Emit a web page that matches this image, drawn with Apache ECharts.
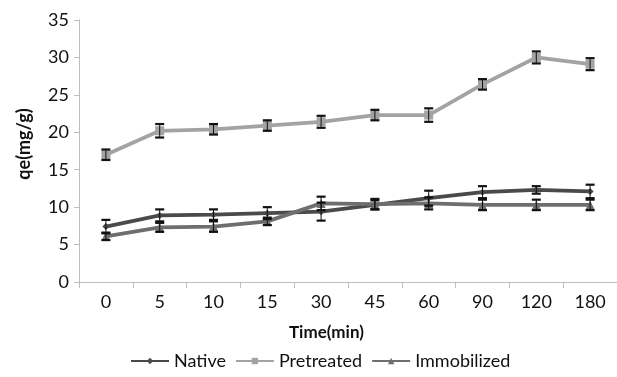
<!DOCTYPE html>
<html><head><meta charset="utf-8">
<script src="https://cdn.jsdelivr.net/npm/echarts@6/dist/echarts.min.js"></script>
<style>html,body{margin:0;padding:0;background:#fff}#c{width:617px;height:377px}</style>
</head><body><div id="c"></div>
<script>
var categories = ['0','5','10','15','30','45','60','90','120','180'];
var nativeVals = [7.4, 8.9, 9.0, 9.2, 9.4, 10.3, 11.2, 12.0, 12.3, 12.1];
var nativeErr  = [0.9, 0.8, 0.7, 0.8, 1.2, 0.6, 1.0, 0.8, 0.5, 0.9];
var pretreatedVals = [17.0, 20.2, 20.4, 20.9, 21.4, 22.3, 22.3, 26.4, 30.0, 29.1];
var pretreatedErr  = [0.7, 0.9, 0.7, 0.7, 0.8, 0.7, 0.9, 0.7, 0.8, 0.8];
var immobilizedVals = [6.1, 7.3, 7.4, 8.1, 10.5, 10.4, 10.5, 10.3, 10.3, 10.3];
var immobilizedErr  = [0.5, 0.6, 0.7, 0.5, 0.9, 0.7, 0.8, 0.7, 0.7, 0.7];
var yTicks = [0, 5, 10, 15, 20, 25, 30, 35];

var FONT = 'Lato';
function errSeries(vals, errs) {
  return {
    type: 'custom', silent: true, z: 5,
    data: vals.map(function (v, i) { return [i, v - errs[i], v + errs[i]]; }),
    renderItem: function (params, api) {
      var lo = api.coord([api.value(0), api.value(1)]);
      var hi = api.coord([api.value(0), api.value(2)]);
      var w = 4.5;
      var st = { stroke: '#111', lineWidth: 2.2 };
      return { type: 'group', children: [
        { type: 'line', shape: { x1: lo[0], y1: lo[1], x2: hi[0], y2: hi[1] }, style: { stroke: '#111', lineWidth: 1 } },
        { type: 'line', shape: { x1: lo[0] - w, y1: lo[1], x2: lo[0] + w, y2: lo[1] }, style: st },
        { type: 'line', shape: { x1: hi[0] - w, y1: hi[1], x2: hi[0] + w, y2: hi[1] }, style: st }
      ]};
    }
  };
}
var chart = echarts.init(document.getElementById('c'), null, { renderer: 'canvas' });
chart.setOption({
  animation: false,
  textStyle: { fontFamily: FONT },
  grid: { left: 79, right: 0, top: 20, bottom: 95 },
  legend: {
    left: 125, top: 347, itemGap: 9, itemWidth: 38, itemHeight: 8,
    textStyle: { fontFamily: FONT, fontSize: 18, color: '#111' },
    data: ['Native', 'Pretreated', 'Immobilized']
  },
  graphic: [
    { type: 'text', left: 289, top: 324, style: { text: 'Time(min)', font: 'bold 17px ' + FONT, fill: '#111' } },
    { type: 'text', x: 24, y: 144, rotation: Math.PI / 2,
      style: { text: 'qe(mg/g)', font: 'bold 18px ' + FONT, fill: '#111', align: 'center', verticalAlign: 'middle' } }
  ],
  xAxis: {
    type: 'category', data: categories, boundaryGap: true,
    axisLine: { lineStyle: { color: '#bdbdbd', width: 1 } },
    axisTick: { show: true, length: 6, lineStyle: { color: '#bdbdbd' } },
    axisLabel: { fontSize: 18, color: '#111', margin: 11, fontFamily: FONT },
    splitLine: { show: false }
  },
  yAxis: {
    type: 'value', min: yTicks[0], max: yTicks[yTicks.length - 1], interval: 5,
    axisLine: { show: true, lineStyle: { color: '#bdbdbd', width: 1 } },
    axisTick: { show: true, length: 5, lineStyle: { color: '#bdbdbd' } },
    axisLabel: { fontSize: 18, color: '#111', margin: 10, fontFamily: FONT },
    splitLine: { show: false }
  },
  series: [
    { name: 'Native', type: 'line', data: nativeVals, symbol: 'diamond', symbolSize: 7,
      lineStyle: { color: '#4a4a4a', width: 3.8 }, itemStyle: { color: '#4a4a4a' }, z: 3 },
    { name: 'Pretreated', type: 'line', data: pretreatedVals, symbol: 'rect', symbolSize: 9,
      lineStyle: { color: '#a3a3a3', width: 3.8 }, itemStyle: { color: '#a3a3a3' }, z: 3 },
    { name: 'Immobilized', type: 'line', data: immobilizedVals, symbol: 'triangle', symbolSize: 9,
      lineStyle: { color: '#6e6e6e', width: 3.8 }, itemStyle: { color: '#6e6e6e' }, z: 3 },
    errSeries(nativeVals, nativeErr),
    errSeries(pretreatedVals, pretreatedErr),
    errSeries(immobilizedVals, immobilizedErr)
  ]
});
</script></body></html>
